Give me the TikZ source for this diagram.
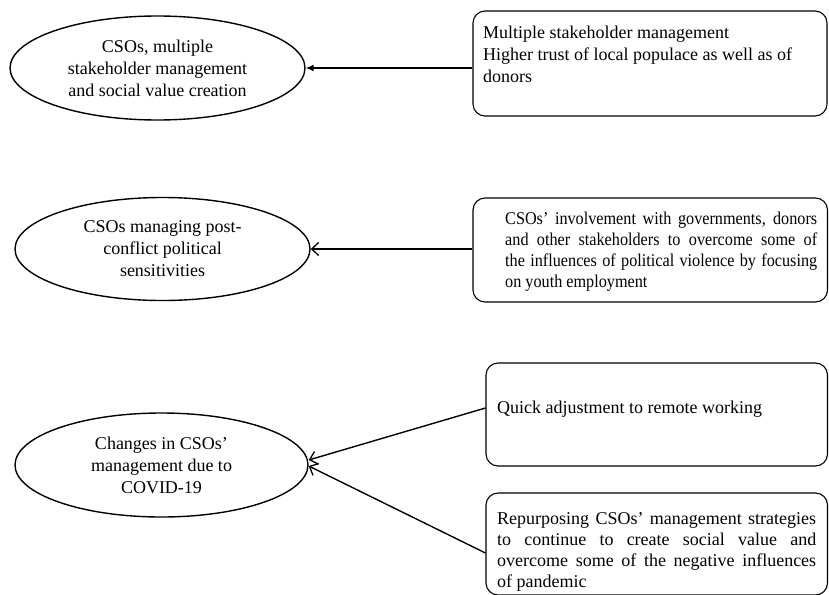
\documentclass[tikz,border=0pt]{standalone}
\usepackage{fontspec}
\setmainfont{Liberation Serif}
\newfontfamily\narrowserif[FakeStretch=0.9]{Liberation Serif}
\usetikzlibrary{arrows.meta,shapes.geometric}
\tikzset{
  oval/.style={ellipse, draw, line width=1.4pt, inner sep=0pt, align=center,
    font=\fontsize{18}{22}\selectfont},
  rbox/.style={draw, rounded corners=12pt, line width=1.1pt, inner sep=0pt},
  btext/.style={inner sep=0pt, anchor=west, font=\fontsize{18}{22}\selectfont},
  conn/.style={line width=1.4pt},
  solidhead/.style={conn, -{Latex[length=8pt,width=7pt]}},
  openhead/.style={conn, -{Straight Barb[length=7pt,width=13pt,line width=1.3pt]}},
}
\begin{document}
\begin{tikzpicture}[x=1pt,y=-1pt]
\useasboundingbox (0,0) rectangle (829,594);
% ellipses
\node[oval, minimum width=295pt, minimum height=104pt] (e1) at (157.5,68)
  {CSOs, multiple\\stakeholder management\\and social value creation};
\node[oval, minimum width=295pt, minimum height=103pt] (e2) at (162.5,249)
  {CSOs managing post-\\conflict political\\sensitivities};
\node[oval, minimum width=293pt, minimum height=104pt] (e3) at (161.5,465)
  {Changes in CSOs’\\management due to\\COVID-19};
% boxes
\node[rbox, minimum width=354pt, minimum height=105pt] (b1) at (650,63.5) {};
\node[rbox, minimum width=354.5pt, minimum height=104pt] (b2) at (650.25,250) {};
\node[rbox, minimum width=341.5pt, minimum height=103pt] (b3a) at (656.75,414.5) {};
\node[rbox, minimum width=341.5pt, minimum height=102pt] (b3b) at (656.75,544) {};
% box texts
\node[btext, align=left] (t1) at (483,54)
  {Multiple stakeholder management\\Higher trust of local populace as well as of\\donors};
\node[btext, text width=312pt, align=justify, font=\fontsize{18}{21}\narrowserif] (t2) at (505,251.5)
  {CSOs’ involvement with governments, donors\linebreak and other stakeholders to overcome some of\linebreak the influences of political violence by focusing\linebreak on youth employment};
\node[btext] (t3a) at (497,409) {Quick adjustment to remote working};
\node[btext, text width=319pt, align=justify, font=\fontsize{18}{21}\selectfont] (t3b) at (497,552)
  {Repurposing CSOs’ management strategies\linebreak to continue to create social value and\linebreak overcome some of the negative influences\linebreak of pandemic};
% connectors
\draw[solidhead] (e1.east -| b1.west) -- (e1.east);
\draw[openhead] (e2.east -| b2.west) -- (e2.east);
\draw[openhead] ([yshift=6.5pt]b3a.west) -- ([yshift=5pt]e3.east);
\draw[openhead] ([yshift=-9pt]b3b.west) -- ([yshift=-1pt]e3.east);
\end{tikzpicture}
\end{document}
